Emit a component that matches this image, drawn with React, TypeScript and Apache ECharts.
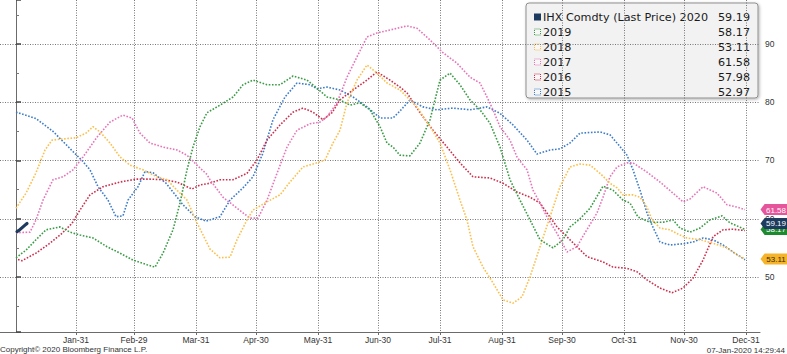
import React, { useEffect, useRef } from "react";
import * as echarts from "echarts";

// x positions are day-of-year (0 = Jan-1); the axis spans day -8 .. 372
const tickDays = [30, 59, 90, 120, 151, 181, 212, 243, 273, 304, 334, 365];
const tickLabels = ["Jan-31", "Feb-29", "Mar-31", "Apr-30", "May-31", "Jun-30", "Jul-31", "Aug-31", "Sep-30", "Oct-31", "Nov-30", "Dec-31"];
const firstDay = -8;
const lastDay = 372;

const legendNames = ["IHX Comdty (Last Price) 2020", "2019", "2018", "2017", "2016", "2015"];
const legendValues = [59.19, 58.17, 53.11, 61.58, 57.98, 52.97];
const seriesColors = ["#1c3b5e", "#3a9b45", "#fbbf4d", "#e674b8", "#cc2f4d", "#3d7cc9"];
const tagColors = ["#1c3b5e", "#1d8a30", "#f5b42a", "#e5559c", null, null];
const tagTextColors = ["#ffffff", "#ffffff", "#3a2a00", "#ffffff", "#ffffff", "#ffffff"];

const ihx2020: [number, number][] = [[0.5, 57.8], [1.5, 58.0], [2.5, 58.3], [3.5, 58.6], [4.5, 58.9], [5.5, 59.19]];

const y2019: [number, number][] = [
  [0, 53.3], [5, 54.6], [10, 56.4], [15, 58.1], [22, 58.6], [27, 57.7], [32, 57.2], [38.5, 56.7], [45.5, 55.2],
  [52, 54.1], [58.5, 52.9], [65.5, 52.1], [69.5, 51.7], [73.5, 54.1], [78.5, 58.1], [82, 62.7], [85.5, 68.4],
  [88.5, 72.3], [92, 75.8], [95.5, 78.2], [102, 79.5], [108.5, 80.9], [113.5, 83.0], [118.5, 83.8], [125.5, 83.0],
  [132, 83.0], [138.5, 84.5], [145.5, 83.8], [150.5, 82.4], [155.5, 80.9], [162, 80.4], [167, 79.5], [172, 79.9],
  [177, 78.7], [182, 75.8], [185.5, 73.0], [188.5, 72.3], [192, 70.9], [197, 70.8], [202, 73.0], [207, 77.0],
  [212, 83.8], [217, 85.0], [222, 83.0], [227, 80.4], [232, 78.7], [237, 76.4], [242, 72.3], [247, 66.7],
  [252, 63.2], [257, 59.8], [262, 56.4], [268.5, 55.0], [273.5, 56.4], [277, 58.6], [282, 60.0], [287, 61.8],
  [293.5, 65.6], [298.5, 64.9], [303.5, 63.2], [307, 62.7], [311, 60.3], [317, 59.4], [323.5, 59.4], [328.5, 59.8],
  [332, 58.4], [337, 57.7], [342, 58.4], [347, 59.8], [353, 60.5], [357, 59.3], [364.5, 58.17]
];

const y2018: [number, number][] = [
  [0, 61.8], [5, 64.4], [10, 67.9], [14.5, 71.8], [18, 73.5], [23.5, 73.7], [30, 73.9], [35, 74.7], [38.5, 75.8],
  [42, 74.9], [47, 73.0], [52, 70.6], [57, 69.2], [63.5, 68.4], [70.5, 67.2], [75.5, 66.7], [80.5, 64.9],
  [85.5, 63.2], [90.5, 59.3], [97, 54.8], [102, 53.3], [107, 53.4], [110.5, 56.4], [115.5, 59.8], [118.5, 61.5],
  [125.5, 62.9], [132, 64.1], [137, 66.3], [143.5, 68.9], [150.5, 69.6], [154.5, 70.1], [158.5, 73.0], [162, 75.2],
  [165.5, 79.9], [170.5, 83.8], [175.5, 86.4], [180.5, 85.0], [185.5, 83.3], [192, 82.1], [200.5, 79.2],
  [207, 75.8], [212, 73.0], [217, 68.4], [222, 63.2], [225.5, 59.8], [228.5, 55.2], [233.5, 51.7], [238.5, 49.0],
  [243.5, 46.1], [248.5, 45.5], [253, 46.6], [257, 50.0], [262, 55.2], [267, 60.3], [272, 65.5], [277, 68.9],
  [282, 69.4], [287, 69.2], [292, 67.8], [297, 66.1], [300.5, 65.3], [303.5, 64.1], [308.5, 64.1], [312, 63.7],
  [315.5, 62.0], [318, 59.8], [322, 58.4], [327, 58.1], [332, 57.2], [335.5, 56.7], [342, 56.4], [348.5, 55.8],
  [355.5, 55.0], [360.5, 53.8], [364.5, 53.11]
];

const y2017: [number, number][] = [
  [0, 57.6], [7, 57.7], [10, 59.8], [13.5, 63.2], [18.5, 66.7], [23.5, 67.2], [28.5, 68.4], [33.5, 70.6],
  [40.5, 74.0], [47, 76.6], [53.5, 77.8], [58, 77.3], [62, 74.7], [67, 73.0], [73.5, 72.3], [80.5, 71.8],
  [85.5, 70.9], [90.5, 69.2], [95.5, 67.6], [97, 66.7], [103.5, 63.7], [110.5, 61.8], [117, 60.1], [121, 60.1],
  [125.5, 63.2], [130.5, 67.8], [135.5, 72.3], [140.5, 75.2], [147, 76.3], [152, 76.6], [155.5, 77.5],
  [160.5, 79.9], [165.5, 84.3], [170.5, 87.8], [175.5, 91.2], [180.5, 91.9], [187, 92.4], [195.5, 93.1],
  [200.5, 92.7], [207, 90.7], [213.5, 88.5], [220.5, 86.7], [227, 84.3], [232, 83.3], [235.5, 80.9], [238.5, 78.7],
  [242, 75.8], [247, 73.5], [250.5, 70.6], [255.5, 68.4], [258.5, 64.9], [262, 62.7], [265.5, 60.3], [270.5, 57.5],
  [275.5, 54.3], [280.5, 55.2], [283.5, 57.0], [290.5, 61.0], [293.5, 63.7], [297, 67.2], [300.5, 68.9],
  [305.5, 69.6], [308.5, 69.6], [315.5, 68.0], [322, 66.3], [328.5, 64.4], [333.5, 62.9], [337, 63.4],
  [343.5, 65.5], [350.5, 64.4], [355.5, 62.4], [360.5, 62.0], [364.5, 61.58]
];

const y2016: [number, number][] = [
  [1, 53.0], [3, 52.8], [10, 54.1], [17, 55.8], [23, 57.5], [28, 59.2], [32, 61.5], [37, 64.1], [43.5, 65.5],
  [52, 66.3], [60, 66.8], [67, 66.8], [73.5, 66.7], [80.5, 66.3], [88, 65.1], [92, 65.8], [97, 66.1], [102, 66.7],
  [108.5, 66.7], [115.5, 67.8], [120.5, 70.1], [125.5, 73.5], [132, 76.1], [138.5, 78.3], [143.5, 79.0],
  [148.5, 78.3], [153.5, 77.0], [158, 78.2], [162, 80.4], [168.5, 82.1], [175.5, 83.8], [180.5, 85.2], [187, 83.8],
  [192, 82.6], [195.5, 81.6], [202, 78.2], [208.5, 75.2], [215.5, 72.3], [222, 69.6], [228.5, 67.2], [237, 67.0],
  [243.5, 66.1], [250.5, 64.6], [257, 63.7], [262, 62.7], [265.5, 61.0], [270.5, 58.6], [275.5, 56.9], [280.5, 55.2],
  [285.5, 53.5], [293.5, 52.6], [298.5, 51.7], [305.5, 51.5], [310.5, 50.9], [315.5, 49.5], [322, 48.1],
  [328, 47.3], [333.5, 48.1], [338.5, 49.8], [343.5, 52.9], [348.5, 56.9], [353.5, 58.1], [358.5, 58.2],
  [364.5, 57.98]
];

const y2015: [number, number][] = [
  [0, 78.3], [10, 77.2], [18.5, 75.0], [28, 71.7], [33, 70.0], [37, 68.4], [41, 65.5], [46, 63.2], [50, 60.35],
  [53.5, 60.5], [56, 63.2], [61, 65.5], [64.5, 68.1], [68.5, 67.9], [75, 66.1], [83.5, 62.4], [89.5, 60.35],
  [95, 59.6], [102, 60.35], [107, 63.2], [113.5, 65.3], [118.5, 67.2], [123.5, 71.3], [128.5, 77.0], [134.5, 80.9],
  [140.5, 83.3], [147, 83.0], [150.5, 82.3], [155.5, 82.6], [162, 82.1], [168.5, 80.9], [175.5, 79.2], [182, 77.3],
  [188.5, 77.3], [192, 78.5], [197, 80.4], [203.5, 79.2], [210.5, 78.7], [218.5, 79.0], [227, 78.7], [235.5, 79.2],
  [242, 78.1], [248.5, 76.1], [255.5, 73.5], [260.5, 71.1], [267, 71.8], [272, 72.0], [277, 73.0], [282, 74.7],
  [292, 74.9], [297, 74.4], [300.5, 73.0], [305.5, 70.9], [308.5, 68.4], [312, 64.9], [315.5, 61.0], [318, 58.9],
  [322, 56.0], [327, 55.5], [333.5, 55.7], [338.5, 56.0], [343.5, 56.7], [348.5, 56.4], [353.5, 55.5],
  [358.5, 54.3], [364.5, 52.97]
];

const seriesData = [ihx2020, y2019, y2018, y2017, y2016, y2015];

const FONT = "Liberation Sans";
const LEGEND_FONT = "DejaVu Sans";

export default function App() {
  const ref = useRef<HTMLDivElement>(null);

  useEffect(() => {
    if (!ref.current) return;
    const chart = echarts.init(ref.current, null, { renderer: "svg" });

    const nCats = lastDay - firstDay + 1;
    const cats = Array.from({ length: nCats }, (_, i) => {
      const k = tickDays.indexOf(i + firstDay);
      return k >= 0 ? tickLabels[k] : "";
    });
    const isTick = (i: number) => tickDays.includes(i + firstDay);

    const mkSeries = (idx: number) => {
      const color = seriesColors[idx];
      const tag = tagColors[idx];
      const isMain = idx === 0;
      const s: any = {
        type: "line",
        name: legendNames[idx],
        xAxisIndex: 1,
        data: seriesData[idx],
        showSymbol: false,
        symbol: "none",
        silent: true,
        z: isMain ? 10 : 2,
        lineStyle: isMain
          ? { color, width: 3.2, cap: "round", join: "round" }
          : { color, width: 1.6, type: "dotted" },
        itemStyle: { color },
      };
      if (tag) {
        s.markPoint = {
          silent: true,
          z: isMain ? 20 : 12,
          symbol: "path://M0,6 L5,0 L34,0 L34,12 L5,12 Z",
          symbolSize: [28, 11],
          symbolKeepAspect: false,
          symbolOffset: [14.5, 0],
          itemStyle: { color: tag },
          label: {
            show: true,
            position: "inside",
            offset: [1.5, 0.5],
            color: tagTextColors[idx],
            fontSize: 8,
            fontFamily: FONT,
            formatter: legendValues[idx].toFixed(2),
          },
          data: [{ coord: [lastDay, legendValues[idx]] }],
        };
      }
      return s;
    };

    // draw order: years first, then IHX on top; green tag under navy tag
    const order = [5, 4, 3, 2, 1, 0];
    const series = order.map(mkSeries);

    const rowY = [17, 32, 47, 62, 77, 92];
    const legendChildren: any[] = [
      {
        type: "rect",
        shape: { x: 526, y: 3, width: 232, height: 95, r: 3 },
        style: {
          fill: "#f2f2f2",
          stroke: "#8f8f8f",
          lineWidth: 1,
          shadowBlur: 3,
          shadowOffsetX: 1,
          shadowOffsetY: 1,
          shadowColor: "rgba(0,0,0,0.3)",
        },
      },
    ];
    legendNames.forEach((name, i) => {
      const y = rowY[i];
      legendChildren.push(
        i === 0
          ? { type: "rect", shape: { x: 534, y: y - 3.5, width: 7, height: 7 }, style: { fill: seriesColors[0] } }
          : {
              type: "rect",
              shape: { x: 534.5, y: y - 3, width: 6, height: 6 },
              style: { fill: "rgba(255,255,255,0.4)", stroke: seriesColors[i], lineWidth: 1, lineDash: [1, 1] },
            },
        {
          type: "text",
          x: 543,
          y,
          style: { text: name, fill: "#1a1a1a", font: `11.2px "${LEGEND_FONT}"`, verticalAlign: "middle" },
        },
        {
          type: "text",
          x: 750,
          y,
          style: {
            text: legendValues[i].toFixed(2),
            fill: "#1a1a1a",
            font: `11.2px "${LEGEND_FONT}"`,
            align: "right",
            verticalAlign: "middle",
          },
        }
      );
    });

    chart.setOption({
      animation: false,
      backgroundColor: "#ffffff",
      grid: { left: 0, right: 27, top: 0, bottom: 22, containLabel: false },
      xAxis: [
        {
          type: "category",
          data: cats,
          boundaryGap: false,
          position: "bottom",
          axisLine: { show: true, lineStyle: { color: "#6b6b6b", width: 1 } },
          axisTick: { show: true, interval: (i: number) => isTick(i), length: 3, lineStyle: { color: "#6b6b6b" } },
          axisLabel: {
            interval: (i: number) => isTick(i),
            color: "#333",
            fontSize: 8.5,
            fontFamily: FONT,
            margin: 3,
          },
          splitLine: {
            show: true,
            interval: (i: number) => isTick(i),
            lineStyle: { color: "#777", width: 1, type: [1, 1.5] },
          },
        },
        { type: "value", min: firstDay, max: lastDay, show: false },
      ],
      yAxis: {
        type: "value",
        position: "right",
        min: 40.56,
        max: 97.55,
        axisLine: { show: true, lineStyle: { color: "#6b6b6b", width: 1 } },
        axisTick: { show: true, length: 5, lineStyle: { color: "#444", width: 1.5 } },
        minorTick: { show: true, splitNumber: 2, length: 3, lineStyle: { color: "#777" } },
        axisLabel: {
          color: "#333",
          fontSize: 8.5,
          fontFamily: FONT,
          margin: 5,
          showMinLabel: false,
          showMaxLabel: false,
          formatter: (v: number) => (Math.abs(v / 10 - Math.round(v / 10)) < 1e-6 ? String(Math.round(v)) : ""),
        },
        splitLine: {
          show: true,
          showMinLine: false,
          showMaxLine: false,
          lineStyle: { color: "#777", width: 1, type: [1, 1.5] },
        },
      },
      series,
      graphic: [
        { type: "group", z: 100, children: legendChildren },
        {
          type: "text",
          left: 0,
          top: 345,
          z: 100,
          style: { text: "Copyright© 2020 Bloomberg Finance L.P.", fill: "#333", font: `8px "${FONT}"` },
        },
        {
          type: "text",
          right: 2,
          top: 346,
          z: 100,
          style: { text: "07-Jan-2020 14:29:44", fill: "#333", font: `8px "${FONT}"` },
        },
      ],
    });

    return () => chart.dispose();
  }, []);

  return <div ref={ref} style={{ position: "absolute", left: 0, top: 0, width: 787, height: 354 }} />;
}
